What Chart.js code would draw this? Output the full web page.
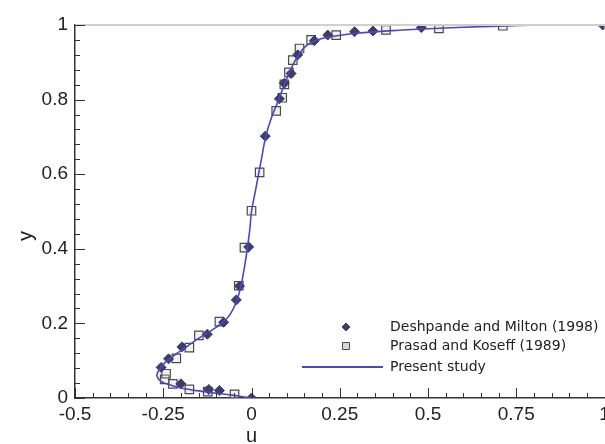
<!DOCTYPE html>
<html>
<head>
<meta charset="utf-8">
<script src="https://cdn.jsdelivr.net/npm/chart.js@4/dist/chart.umd.min.js"></script>
<style>
  html, body { margin: 0; padding: 0; background: #fff; overflow: hidden; }
  #wrap { width: 605px; height: 444px; overflow: hidden; }
</style>
</head>
<body>
<div id="wrap"><canvas id="myChart" width="620" height="460"></canvas></div>
<script>
// tick labels
const xTicks = [-0.5, -0.25, 0, 0.25, 0.5, 0.75, 1];
const yTicks = [0, 0.2, 0.4, 0.6, 0.8, 1];

// Deshpande and Milton (1998)
const deshpandeU = [0, -0.091, -0.121, -0.2, -0.256, -0.235, -0.197, -0.125, -0.079, -0.043, -0.034, -0.008, 0.039, 0.079, 0.093, 0.112, 0.131, 0.178, 0.216, 0.292, 0.344, 0.481, 0.995];
const deshpandeY = [0, 0.02, 0.023, 0.038, 0.082, 0.105, 0.137, 0.171, 0.203, 0.263, 0.3, 0.405, 0.702, 0.802, 0.844, 0.87, 0.92, 0.958, 0.973, 0.982, 0.984, 0.993, 1.0];

// Prasad and Koseff (1989)
const prasadU = [-0.048, -0.124, -0.176, -0.223, -0.246, -0.242, -0.213, -0.176, -0.149, -0.091, -0.036, -0.02, 0.0, 0.023, 0.07, 0.087, 0.093, 0.106, 0.117, 0.136, 0.169, 0.24, 0.381, 0.531, 0.712];
const prasadY = [0.01, 0.017, 0.023, 0.038, 0.05, 0.065, 0.106, 0.135, 0.168, 0.205, 0.301, 0.403, 0.502, 0.605, 0.77, 0.805, 0.841, 0.873, 0.906, 0.937, 0.96, 0.973, 0.987, 0.991, 0.998];

// Present study
const presentU = [0, -0.05, -0.1, -0.15, -0.2, -0.235, -0.258, -0.268, -0.262, -0.245, -0.218, -0.185, -0.15, -0.115, -0.085, -0.06, -0.042, -0.03, -0.02, -0.012, -0.005, 0.0, 0.01, 0.02, 0.03, 0.04, 0.056, 0.077, 0.097, 0.121, 0.15, 0.18, 0.22, 0.3, 0.4, 0.5, 0.6, 0.7, 0.82];
const presentY = [0, 0.007, 0.013, 0.019, 0.027, 0.036, 0.046, 0.06, 0.075, 0.095, 0.115, 0.137, 0.16, 0.18, 0.2, 0.225, 0.26, 0.3, 0.35, 0.4, 0.45, 0.5, 0.55, 0.6, 0.65, 0.7, 0.75, 0.8, 0.85, 0.9, 0.94, 0.958, 0.968, 0.978, 0.985, 0.99, 0.994, 0.997, 1.0];

const toPoints = (us, ys) => us.map((u, i) => ({ x: u, y: ys[i] }));

const lineColor = '#4a46c6';
const diamondColor = '#3d3d66';
const squareFill = '#d9d9d9';
const squareBorder = '#4a4a4a';
const axisColor = '#333';
const labelFont = '"Liberation Sans", Arial, sans-serif';

// inward ticks, top border, axis titles and the inset legend
const decorations = {
    id: 'decorations',
    afterDraw(chart) {
        const { ctx, chartArea: area, scales: { x, y } } = chart;
        ctx.save();

        // top border
        ctx.strokeStyle = '#cfcfcf';
        ctx.lineWidth = 2;
        ctx.beginPath();
        ctx.moveTo(area.left, area.top);
        ctx.lineTo(area.right + 20, area.top);
        ctx.stroke();

        ctx.strokeStyle = axisColor;
        ctx.lineWidth = 1;
        ctx.beginPath();
        for (let i = 0; i <= 30; i++) {
            const v = -0.5 + i * 0.05;
            const px = Math.round(x.getPixelForValue(v)) + 0.5;
            const len = i % 5 === 0 ? 10 : 5;
            ctx.moveTo(px, area.bottom);
            ctx.lineTo(px, area.bottom - len);
        }
        for (let i = 0; i <= 25; i++) {
            const v = i * 0.04;
            const py = Math.round(y.getPixelForValue(v)) + 0.5;
            const len = i % 5 === 0 ? 10 : 5;
            ctx.moveTo(area.left, py);
            ctx.lineTo(area.left + len, py);
        }
        ctx.stroke();

        // axis titles
        ctx.fillStyle = '#222';
        ctx.font = '20px ' + labelFont;
        ctx.textAlign = 'center';
        ctx.textBaseline = 'middle';
        ctx.fillText('u', x.getPixelForValue(0), 436);
        ctx.save();
        ctx.translate(26, 236);
        ctx.rotate(-Math.PI / 2);
        ctx.fillText('y', 0, 0);
        ctx.restore();

        // legend
        const lx = 346, tx = 390;
        const rows = [327, 346, 367];
        ctx.fillStyle = diamondColor;
        ctx.strokeStyle = diamondColor;
        ctx.lineWidth = 1;
        Chart.helpers.drawPoint(ctx, { pointStyle: 'rectRot', radius: 4, borderWidth: 1 }, lx, rows[0]);
        ctx.fillStyle = squareFill;
        ctx.strokeStyle = squareBorder;
        Chart.helpers.drawPoint(ctx, { pointStyle: 'rect', radius: 5, borderWidth: 1 }, lx, rows[1]);
        ctx.strokeStyle = lineColor;
        ctx.lineWidth = 2;
        ctx.beginPath();
        ctx.moveTo(302, rows[2]);
        ctx.lineTo(383, rows[2]);
        ctx.stroke();

        ctx.fillStyle = '#222';
        ctx.font = '14px "DejaVu Sans", sans-serif';
        ctx.textAlign = 'left';
        ctx.fillText('Deshpande and Milton (1998)', tx, rows[0]);
        ctx.fillText('Prasad and Koseff (1989)', tx, rows[1]);
        ctx.fillText('Present study', tx, rows[2]);
        ctx.restore();
    }
};

new Chart(document.getElementById('myChart').getContext('2d'), {
    type: 'scatter',
    data: {
        datasets: [
            {
                label: 'Present study',
                type: 'line',
                data: toPoints(presentU, presentY),
                borderColor: lineColor,
                borderWidth: 1.6,
                pointRadius: 0,
                tension: 0.3,
                fill: false,
                order: 0
            },
            {
                label: 'Deshpande and Milton (1998)',
                data: toPoints(deshpandeU, deshpandeY),
                pointStyle: 'rectRot',
                pointRadius: 5,
                backgroundColor: diamondColor,
                borderColor: diamondColor,
                borderWidth: 1,
                order: 1
            },
            {
                label: 'Prasad and Koseff (1989)',
                data: toPoints(prasadU, prasadY),
                pointStyle: 'rect',
                pointRadius: 6,
                backgroundColor: 'rgba(217,217,217,0.35)',
                borderColor: squareBorder,
                borderWidth: 1.2,
                order: 2
            }
        ]
    },
    options: {
        responsive: false,
        animation: false,
        devicePixelRatio: 1,
        layout: { padding: { top: 25, right: 15.5, left: 0, bottom: 0 } },
        plugins: {
            legend: { display: false },
            tooltip: { enabled: false }
        },
        scales: {
            x: {
                type: 'linear',
                min: -0.5,
                max: 1,
                afterFit: scale => { scale.height = 62; },
                afterBuildTicks: scale => { scale.ticks = xTicks.map(v => ({ value: v })); },
                grid: { display: false, drawTicks: false },
                border: { display: true, color: axisColor, width: 1.5 },
                ticks: {
                    padding: 5,
                    color: '#222',
                    font: { family: labelFont, size: 19 },
                    maxRotation: 0,
                    autoSkip: false,
                    callback: v => String(v)
                }
            },
            y: {
                type: 'linear',
                min: 0,
                max: 1,
                afterFit: scale => { scale.width = 75; },
                afterBuildTicks: scale => { scale.ticks = yTicks.map(v => ({ value: v })); },
                grid: { display: false, drawTicks: false },
                border: { display: true, color: axisColor, width: 1.5 },
                ticks: {
                    padding: 7,
                    color: '#222',
                    font: { family: labelFont, size: 19 },
                    autoSkip: false,
                    callback: v => String(v)
                }
            }
        }
    },
    plugins: [decorations]
});
</script>
</body>
</html>
